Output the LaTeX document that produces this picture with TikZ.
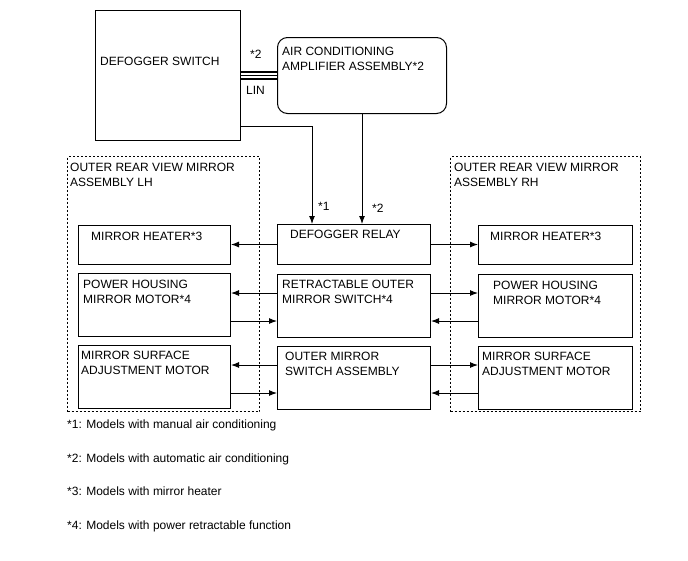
\documentclass[tikz,border=0pt]{standalone}
\usepackage{fontspec}
\setmainfont{Liberation Sans}
\usetikzlibrary{arrows.meta}

\begin{document}
\begin{tikzpicture}[x=1pt,y=-1pt,
    blk/.style={draw,line width=1pt,anchor=north west,inner sep=0pt},
    dbox/.style={draw,line width=1pt,dash pattern=on 2pt off 2pt,anchor=north west,inner sep=0pt},
    txt/.style={anchor=north west,inner sep=0pt,align=left,font=\fontsize{12}{15}\selectfont},
    >={Latex[length=8pt,width=6pt]}]
    \useasboundingbox (0,0) rectangle (688,560);
    % top part
    \node[blk,minimum width=145,minimum height=130] (swi) at (95,10) {};
    \node[blk,rounded corners=10pt,minimum width=169,minimum height=76] (amp) at (277,37) {};
    \node[txt] (switxt) at ([shift={(5,47)}]swi.north west) {DEFOGGER SWITCH};
    \node[txt] (amptxt) at ([shift={(5,10)}]amp.north west) {AIR CONDITIONING\\AMPLIFIER ASSEMBLY*2};
    % LIN bus
    \foreach \s in {-3.3,0,3.3}
        \draw[line width=1.7pt] ([yshift=\s pt]swi.east) -- ([yshift=\s pt]amp.west);
    \node[txt] (linstar) at (250,50) {*2};
    \node[txt] (lin) at (246,86) {LIN};
    % dashed mirror assemblies
    \node[dbox,minimum width=192,minimum height=255] (lh) at (67,156) {};
    \node[dbox,minimum width=190,minimum height=255] (rh) at (450,156) {};
    \node[txt] (lhtxt) at ([shift={(3,7)}]lh.north west) {OUTER REAR VIEW MIRROR\\ASSEMBLY LH};
    \node[txt] (rhtxt) at ([shift={(4,7)}]rh.north west) {OUTER REAR VIEW MIRROR\\ASSEMBLY RH};
    % left column
    \node[blk,minimum width=152,minimum height=39] (lheat) at (78,225) {};
    \node[blk,minimum width=152,minimum height=63] (lhous) at (78,273) {};
    \node[blk,minimum width=152,minimum height=63] (lsurf) at (78,345) {};
    \node[txt] (lheattxt) at ([shift={(13,7)}]lheat.north west) {MIRROR HEATER*3};
    \node[txt] (lhoustxt) at ([shift={(5,7)}]lhous.north west) {POWER HOUSING\\MIRROR MOTOR*4};
    \node[txt] (lsurftxt) at ([shift={(3,6)}]lsurf.north west) {MIRROR SURFACE\\ADJUSTMENT MOTOR};
    % middle column
    \node[blk,minimum width=153,minimum height=40] (relay) at (277,224) {};
    \node[blk,minimum width=153,minimum height=63] (retr) at (277,274) {};
    \node[blk,minimum width=153,minimum height=63] (oswi) at (277,346) {};
    \node[txt] (relaytxt) at ([shift={(13,6)}]relay.north west) {DEFOGGER RELAY};
    \node[txt] (retrtxt) at ([shift={(5,6)}]retr.north west) {RETRACTABLE OUTER\\MIRROR SWITCH*4};
    \node[txt] (oswitxt) at ([shift={(8,6)}]oswi.north west) {OUTER MIRROR\\SWITCH ASSEMBLY};
    % right column
    \node[blk,minimum width=154,minimum height=39] (rheat) at (478,225) {};
    \node[blk,minimum width=154,minimum height=63] (rhous) at (478,274) {};
    \node[blk,minimum width=154,minimum height=63] (rsurf) at (478,346) {};
    \node[txt] (rheattxt) at ([shift={(12,7)}]rheat.north west) {MIRROR HEATER*3};
    \node[txt] (rhoustxt) at ([shift={(15,7)}]rhous.north west) {POWER HOUSING\\MIRROR MOTOR*4};
    \node[txt] (rsurftxt) at ([shift={(4,6)}]rsurf.north west) {MIRROR SURFACE\\ADJUSTMENT MOTOR};
    % feeds into the relay
    \draw[->,line width=1pt] ([yshift=-51pt]swi.east) -| ([xshift=-42pt]relay.north);
    \draw[->,line width=1pt] (amp.south) -- (amp.south |- relay.north);
    \node[txt] (star1) at (318,202) {*1};
    \node[txt] (star2) at (372,204) {*2};
    % heater outputs
    \draw[->,line width=1pt] (relay.west) -- (relay.west -| lheat.east);
    \draw[->,line width=1pt] (relay.east) -- (relay.east -| rheat.west);
    % motor lines
    \foreach \m/\l/\r in {retr/lhous/rhous,oswi/lsurf/rsurf}{
        \draw[->,line width=1pt] ([yshift=13pt]\m.west) -- ([yshift=13pt]\m.west -| \l.east);
        \draw[->,line width=1pt] ([yshift=-15pt]\m.west -| \l.east) -- ([yshift=-15pt]\m.west);
        \draw[->,line width=1pt] ([yshift=13pt]\m.east) -- ([yshift=13pt]\m.east -| \r.west);
        \draw[->,line width=1pt] ([yshift=-15pt]\m.east -| \r.west) -- ([yshift=-15pt]\m.east);
    }
    % notes
    \node[txt] (note1) at (67,420) {*1: Models with manual air conditioning};
    \node[txt] (note2) at (67,454) {*2: Models with automatic air conditioning};
    \node[txt] (note3) at (67,487) {*3: Models with mirror heater};
    \node[txt] (note4) at (67,521) {*4: Models with power retractable function};
\end{tikzpicture}
\end{document}
